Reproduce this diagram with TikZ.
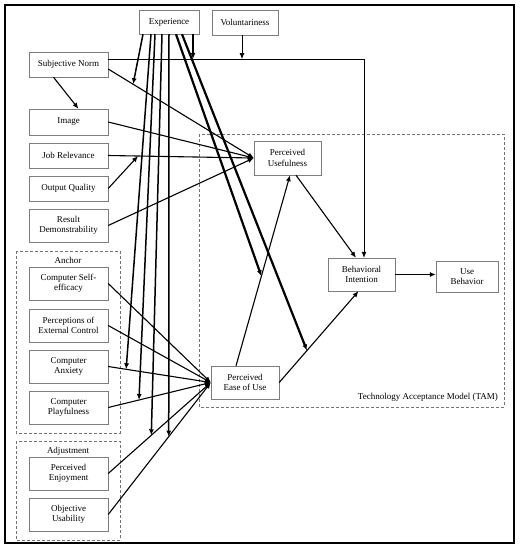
\documentclass[tikz,border=0pt]{standalone}
\usepackage{fontspec}
\setmainfont{Liberation Serif}
\usepackage{tikz}
\usetikzlibrary{arrows.meta,calc,positioning}
\definecolor{boxgrey}{RGB}{125,125,125}
\definecolor{dashgrey}{RGB}{115,115,115}
\tikzset{
  construct/.style={draw=boxgrey,fill=white,align=center,inner sep=1pt,
    font=\fontsize{9}{10.5}\selectfont,minimum width=79pt,minimum height=33pt},
  groupbox/.style={draw=dashgrey,dash pattern=on 3pt off 2pt},
  grouplabel/.style={font=\fontsize{9}{10.5}\selectfont,inner sep=1pt},
  link/.style={-{Latex[length=6pt,width=5pt]},line width=1.1pt},
  thinlink/.style={link,line width=0.7pt},
  modlink/.style={link,line width=1.5pt},
  strongmod/.style={link,line width=2.2pt}
}

\begin{document}
\begin{tikzpicture}[x=1pt,y=-1pt]
  \useasboundingbox (0,0) rectangle (522,550);
  \draw[line width=1.8pt] (5,5) rectangle (514,543);
  % groups
  \draw[groupbox] (16,251) rectangle (120,433);
  \draw[groupbox] (16,441) rectangle (120,540);
  \draw[groupbox] (199,134) rectangle (504,407);
  \node[grouplabel] (anchorlbl) at (68,260) {Anchor};
  \node[grouplabel] (adjustlbl) at (68,451) {Adjustment};
  \node[grouplabel,anchor=south east] (tamlbl) at (499,403)
    {Technology Acceptance Model (TAM)};

  % moderators on top
  \node[construct,minimum width=60pt,minimum height=24pt] (exper) at (169,22) {Experience};
  \node[construct,minimum width=66pt,minimum height=25pt] (volun) at (245,22.5) {Voluntariness};

  % determinants, left column
  \foreach \name/\y/\h/\txt in {subj/64.5/25pt/{Subjective Norm},
      image/122/26pt/Image, jobrel/155.5/25pt/{Job Relevance},
      outq/188.5/25pt/{Output Quality}, resdem/225.5/33pt/{Result\\Demonstrability},
      selfeff/283.5/33pt/{Computer Self-\\efficacy},
      extctrl/325.5/33pt/{Perceptions of\\External Control},
      anxiety/366.5/33pt/{Computer\\Anxiety}, playful/407.5/33pt/{Computer\\Playfulness},
      enjoy/473.5/33pt/{Perceived\\Enjoyment}, usab/514.5/33pt/{Objective\\Usability}}
    \node[construct,minimum height=\h] (\name) at (68.5,\y) {\txt};

  % TAM core
  \node[construct,minimum width=67pt,minimum height=34pt] (pu) at (287.5,158) {Perceived\\Usefulness};
  \node[construct,minimum width=67pt] (bi) at (361.5,274.5) {Behavioral\\Intention};
  \node[construct,minimum width=62pt,minimum height=31pt] (ub) at (467,276.5) {Use\\Behavior};
  \node[construct,minimum width=68pt] (peou) at (245,382.5) {Perceived\\Ease of Use};

  % into perceived usefulness
  \draw[link] ([yshift=-4.5pt]subj.east) -- coordinate[pos=0.171] (snpu) (pu.west);
  \draw[link] (image.east) -- (pu.west);
  \draw[link] (jobrel.east) -- coordinate[pos=0.205] (jrpu) (pu.west);
  \draw[link] (outq.east) -- (jrpu);
  \draw[link] (resdem.east) -- (pu.west);
  \draw[link] ([xshift=-15pt]subj.south) -- ([xshift=10pt]image.north);

  % subjective norm to intention
  \coordinate (sntop) at ([yshift=5.5pt]subj.east);
  \coordinate (bitop) at ([xshift=2.5pt]bi.north);
  \coordinate (snturn) at (sntop -| bitop);
  \draw[thinlink] (sntop) -- (snturn) -- (bitop);
  \draw[thinlink] ([xshift=-3pt]volun.south) -- ([xshift=-3pt]volun.south |- sntop);

  % into perceived ease of use
  \foreach \src/\p/\m in {selfeff/0.5/sepe, extctrl/0.5/ecpe, anxiety/0.175/anxpe,
      playful/0.30/plaype, enjoy/0.42/enjpe, usab/0.59/usape}
    \draw[link] (\src.east) -- coordinate[pos=\p] (\m) (peou.west);

  % TAM paths
  \draw[link] ([xshift=-9pt]peou.north) -- coordinate[pos=0.47] (pepu) ([xshift=2.5pt]pu.south);
  \draw[link] (peou.east) -- coordinate[pos=0.35] (pebi) ([xshift=-3pt]bi.south);
  \draw[link] ([xshift=8.5pt]pu.south) -- ([xshift=-5.5pt]bi.north);
  \draw[link] (bi.east) -- (bi.east -| ub.west);

  % experience moderates
  \foreach \dx/\tgt in {-26pt/snpu, -18pt/anxpe, -14pt/plaype, -7pt/enjpe, 0pt/usape}
    \draw[modlink] ([xshift=\dx]exper.south) -- (\tgt);
  \foreach \dx/\tgt in {7pt/pepu, 13pt/pebi}
    \draw[strongmod] ([xshift=\dx]exper.south) -- (\tgt);
  \draw[modlink] ([xshift=24pt]exper.south) -- ([xshift=24pt]exper.south |- sntop);
\end{tikzpicture}
\end{document}
